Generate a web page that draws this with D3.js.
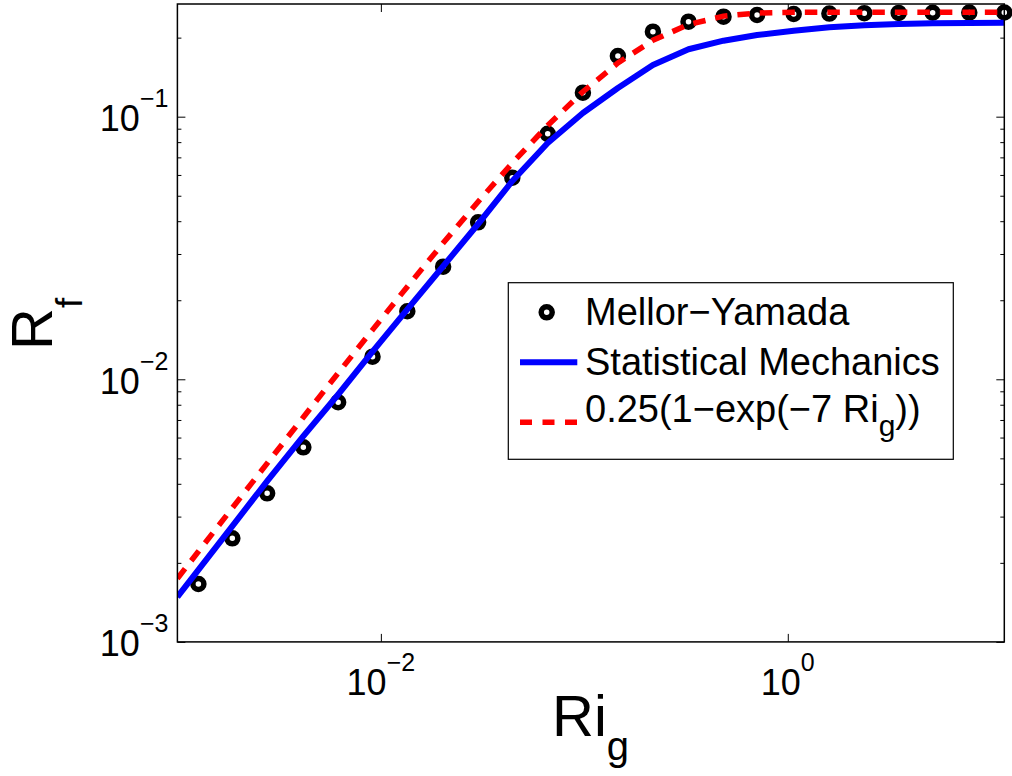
<!DOCTYPE html>
<html>
<head>
<meta charset="utf-8">
<script src="https://cdn.jsdelivr.net/npm/d3@7"></script>
<style>
  html, body { margin: 0; padding: 0; background: #fff; }
  svg { display: block; }
  text { font-family: "Liberation Sans", Arial, Helvetica, sans-serif; fill: #000; }
</style>
</head>
<body>
<svg id="chart" width="1012" height="776"></svg>
<script>
// ---- data ----
const riMY = [0.001268, 0.001862, 0.002761, 0.004159, 0.006166, 0.009099, 0.01349, 0.02023,
  0.03006, 0.04426, 0.06607, 0.0984, 0.1462, 0.2173, 0.3251, 0.4831, 0.7063, 1.069,
  1.601, 2.377, 3.508, 5.152, 7.798, 11.59];
const rfMY = [0.001661, 0.00248, 0.003679, 0.005508, 0.008175, 0.01219, 0.01816, 0.02684,
  0.03961, 0.05857, 0.08607, 0.1234, 0.1703, 0.2108, 0.230, 0.2403, 0.2439, 0.246,
  0.2470, 0.2478, 0.2484, 0.2488, 0.2491, 0.2493];

const riLine = [0.001, 0.001268, 0.001862, 0.002761, 0.004159, 0.006166, 0.009099, 0.01349, 0.02023,
  0.03006, 0.04426, 0.06607, 0.0984, 0.1462, 0.2173, 0.3251, 0.4831, 0.7063, 1.069,
  1.601, 2.377, 3.508, 5.152, 7.798, 11.59];
const rfStat = [0.001483, 0.00188, 0.002761, 0.004095, 0.00608, 0.00875, 0.01274, 0.01847, 0.02694,
  0.03903, 0.0569, 0.0794, 0.1033, 0.1286, 0.1573, 0.1806, 0.1947, 0.2047, 0.2126,
  0.219, 0.2228, 0.2254, 0.2268, 0.2273, 0.2277];
const rfFit = [0.001744, 0.002209, 0.003237, 0.004785, 0.007173, 0.010561, 0.015427, 0.022527, 0.03301,
  0.047439, 0.066605, 0.092571, 0.124456, 0.160157, 0.195382, 0.224318, 0.241503, 0.248219, 0.249859,
  0.249997, 0.25, 0.25, 0.25, 0.25, 0.25];

const xDomain = [0.001, 11.59];
const yDomain = [0.001, 0.2686];
const xTicks = [0.01, 1];
const xTickExp = ["\u22122", "0"];
const yTicks = [0.001, 0.01, 0.1];
const yTickExp = ["\u22123", "\u22122", "\u22121"];
const legendLabels = ["Mellor\u2212Yamada", "Statistical Mechanics", "0.25(1\u2212exp(\u22127 Ri"];

// ---- layout ----
const L = 177.4, R = 1004.3, T = 4, B = 641.9;
const svg = d3.select("#chart");
const x = d3.scaleLog().domain(xDomain).range([L, R]);
const y = d3.scaleLog().domain(yDomain).range([B, T]);

svg.append("defs").append("clipPath").attr("id", "clip")
  .append("rect").attr("x", L).attr("y", T).attr("width", R - L).attr("height", B - T);

// axes (ticks inward, mirrored)
const majorLen = 8, minorLen = 4;
const yMinor = y.ticks().filter(v => !yTicks.some(t => Math.abs(t - v) / t < 1e-6));

function styleAxis(g) {
  g.select(".domain").remove();
  g.selectAll(".tick line").attr("stroke", "#000").attr("stroke-width", 1);
  g.selectAll(".tick text").remove();
}
svg.append("g").attr("transform", `translate(0,${B})`)
  .call(d3.axisBottom(x).tickValues(xTicks).tickSize(-majorLen)).call(styleAxis);
svg.append("g").attr("transform", `translate(0,${T})`)
  .call(d3.axisTop(x).tickValues(xTicks).tickSize(-majorLen)).call(styleAxis);
svg.append("g").attr("transform", `translate(${L},0)`)
  .call(d3.axisLeft(y).tickValues(yTicks).tickSize(-majorLen)).call(styleAxis);
svg.append("g").attr("transform", `translate(${L},0)`)
  .call(d3.axisLeft(y).tickValues(yMinor).tickSize(-minorLen)).call(styleAxis);
svg.append("g").attr("transform", `translate(${R},0)`)
  .call(d3.axisRight(y).tickValues(yTicks).tickSize(-majorLen)).call(styleAxis);
svg.append("g").attr("transform", `translate(${R},0)`)
  .call(d3.axisRight(y).tickValues(yMinor).tickSize(-minorLen)).call(styleAxis);

// tick labels with superscripts
xTicks.forEach((v, i) => {
  const t = svg.append("text").attr("x", x(v)).attr("y", B + 53)
    .attr("text-anchor", "middle").style("font-size", "36px");
  t.append("tspan").text("10");
  t.append("tspan").attr("dy", -24).style("font-size", "25px").text(xTickExp[i]);
});
yTicks.forEach((v, i) => {
  const t = svg.append("text").attr("x", L - 9).attr("y", y(v) + 14.5)
    .attr("text-anchor", "end").style("font-size", "36px");
  t.append("tspan").text("10");
  t.append("tspan").attr("dy", -24).style("font-size", "25px").text(yTickExp[i]);
});

// Mellor-Yamada markers (drawn first, lines go over them)
svg.append("g").selectAll("circle").data(rfMY).join("circle")
  .attr("cx", (d, i) => x(riMY[i])).attr("cy", d => y(d)).attr("r", 5.5)
  .attr("fill", "none").attr("stroke", "#000").attr("stroke-width", 5.5);

// lines
const lineGen = d3.line().x((d, i) => x(riLine[i])).y(d => y(d));
svg.append("path").attr("clip-path", "url(#clip)")
  .attr("d", lineGen(rfStat)).attr("fill", "none")
  .attr("stroke", "#0000ff").attr("stroke-width", 6).attr("stroke-linejoin", "round");
svg.append("path").attr("clip-path", "url(#clip)")
  .attr("d", lineGen(rfFit)).attr("fill", "none")
  .attr("stroke", "#ff0000").attr("stroke-width", 5.5).attr("stroke-dasharray", "12.5,10");

// frame
svg.append("rect").attr("x", L).attr("y", T).attr("width", R - L).attr("height", B - T)
  .attr("fill", "none").attr("stroke", "#000").attr("stroke-width", 1.5);

// axis labels
const xl = svg.append("text").attr("x", 552).attr("y", 736).style("font-size", "58px");
xl.append("tspan").text("Ri");
xl.append("tspan").attr("dy", 24).style("font-size", "40px").text("g");

const yl = svg.append("text").attr("transform", "translate(52,350) rotate(-90)").style("font-size", "58px");
yl.append("tspan").text("R");
yl.append("tspan").attr("dy", 30).style("font-size", "37px").text("f");

// legend
const lg = svg.append("g");
lg.append("rect").attr("x", 508.3).attr("y", 282.7).attr("width", 445).attr("height", 176.6)
  .attr("fill", "#fff").attr("stroke", "#000").attr("stroke-width", 1.2);
lg.append("circle").attr("cx", 546.7).attr("cy", 312.3).attr("r", 5.5)
  .attr("fill", "none").attr("stroke", "#000").attr("stroke-width", 5.5);
lg.append("line").attr("x1", 520).attr("x2", 577.3).attr("y1", 362.3).attr("y2", 362.3)
  .attr("stroke", "#0000ff").attr("stroke-width", 6);
lg.append("line").attr("x1", 520).attr("x2", 577.3).attr("y1", 422.3).attr("y2", 422.3)
  .attr("stroke", "#ff0000").attr("stroke-width", 5.5).attr("stroke-dasharray", "12,10.5");
const lbY = [325, 375, 421.7];
legendLabels.forEach((s, i) => {
  const t = lg.append("text").attr("x", 585).attr("y", lbY[i]).style("font-size", "38px");
  t.append("tspan").text(s);
  if (i === 2) {
    t.append("tspan").attr("dy", 14).style("font-size", "30px").text("g");
    t.append("tspan").attr("dy", -14).text("))");
  }
});
</script>
</body>
</html>
